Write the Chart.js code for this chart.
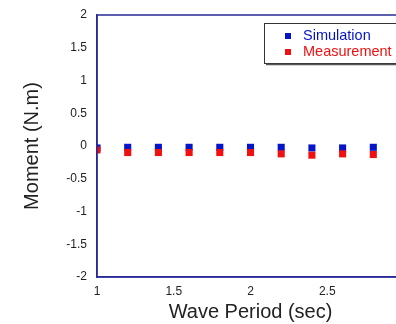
<!DOCTYPE html>
<html>
<head>
<meta charset="utf-8">
<script src="https://cdn.jsdelivr.net/npm/chart.js@4"></script>
<style>
  html, body { margin: 0; padding: 0; background: #fff; }
  #wrap { width: 396px; height: 324px; overflow: hidden; }
  #wrap canvas { display: block; }
</style>
</head>
<body>
<div id="wrap"><canvas id="chart" width="412" height="324"></canvas></div>
<script>
const periods = [1, 1.2, 1.4, 1.6, 1.8, 2.0, 2.2, 2.4, 2.6, 2.8];
const simulation = [-0.03, -0.02, -0.02, -0.02, -0.02, -0.02, -0.02, -0.03, -0.03, -0.02];
const measurement = [-0.06, -0.1, -0.1, -0.1, -0.1, -0.1, -0.12, -0.14, -0.12, -0.13];
const seriesNames = ['Simulation', 'Measurement'];
const seriesColors = ['#0414c8', '#f01010'];
const xTicks = [1, 1.5, 2, 2.5, 3];
const yTicks = [-2, -1.5, -1, -0.5, 0, 0.5, 1, 1.5, 2];

const FONT = '"Liberation Sans", Arial, sans-serif';
const toPoints = vals => periods.map((p, i) => ({ x: p, y: vals[i] }));

// box around the plot area (matlab style)
const frame = {
  id: 'frame',
  afterDatasetsDraw(chart) {
    const a = chart.chartArea;
    const ctx = chart.ctx;
    ctx.save();
    ctx.strokeStyle = '#2a2a98';
    ctx.lineWidth = 1.5;
    ctx.strokeRect(a.left, a.top, a.right - a.left, a.bottom - a.top);
    ctx.restore();
  }
};

// legend box in the top right corner
const boxLegend = {
  id: 'boxLegend',
  afterDraw(chart) {
    const ctx = chart.ctx;
    const x = 264, y = 23, w = 142, h = 40;
    ctx.save();
    ctx.fillStyle = '#fff';
    ctx.fillRect(x, y, w, h);
    ctx.strokeStyle = '#333';
    ctx.lineWidth = 1;
    ctx.strokeRect(x + 0.5, y + 0.5, w, h);
    ctx.strokeStyle = '#555';
    ctx.lineWidth = 1.5;
    ctx.beginPath();
    ctx.moveTo(x + 2, y + h + 1.5);
    ctx.lineTo(x + w + 1.5, y + h + 1.5);
    ctx.stroke();
    ctx.font = '14.5px ' + FONT;
    ctx.textBaseline = 'middle';
    chart.data.datasets.forEach((ds, i) => {
      const cy = y + 13 + i * 16;
      ctx.fillStyle = ds.backgroundColor;
      ctx.fillRect(x + 21, cy - 3, 6, 6);
      ctx.fillText(ds.label, x + 39, cy);
    });
    ctx.restore();
  }
};

new Chart(document.getElementById('chart'), {
  type: 'scatter',
  data: {
    datasets: [
      {
        label: seriesNames[0],
        data: toPoints(simulation),
        backgroundColor: seriesColors[0],
        borderColor: seriesColors[0],
        pointStyle: 'rect',
        pointRadius: 5,
        borderWidth: 0,
        order: 2
      },
      {
        label: seriesNames[1],
        data: toPoints(measurement),
        backgroundColor: seriesColors[1],
        borderColor: seriesColors[1],
        pointStyle: 'rect',
        pointRadius: 5,
        borderWidth: 0,
        order: 1
      }
    ]
  },
  options: {
    responsive: false,
    animation: false,
    layout: { padding: { top: 15, right: 8, left: 0, bottom: 0 } },
    plugins: {
      legend: { display: false },
      tooltip: { enabled: false }
    },
    scales: {
      x: {
        type: 'linear',
        min: 1,
        max: 3,
        afterBuildTicks: s => { s.ticks = xTicks.map(v => ({ value: v })); },
        afterFit: s => { s.height = 47; s.paddingLeft = 0; s.paddingRight = 0; },
        grid: { display: false, drawTicks: false },
        border: { display: true, color: '#2a2a98', width: 1.5 },
        ticks: {
          color: '#222',
          padding: 7,
          maxRotation: 0,
          callback: v => String(v),
          font: { family: FONT, size: 12 }
        },
        title: {
          display: true,
          text: 'Wave Period (sec)',
          color: '#222',
          padding: { top: 0, bottom: 0 },
          font: { family: FONT, size: 20 }
        }
      },
      y: {
        min: -2,
        max: 2,
        afterBuildTicks: s => { s.ticks = yTicks.map(v => ({ value: v })); },
        afterFit: s => { s.width = 97; s.paddingTop = 0; s.paddingBottom = 0; },
        grid: { display: false, drawTicks: false },
        border: { display: true, color: '#2a2a98', width: 1.5 },
        ticks: {
          color: '#222',
          padding: 10,
          callback: v => String(v),
          font: { family: FONT, size: 12 }
        },
        title: {
          display: true,
          text: 'Moment (N.m)',
          color: '#222',
          padding: { top: 20, bottom: 0 },
          font: { family: FONT, size: 20 }
        }
      }
    }
  },
  plugins: [frame, boxLegend]
});
</script>
</body>
</html>
